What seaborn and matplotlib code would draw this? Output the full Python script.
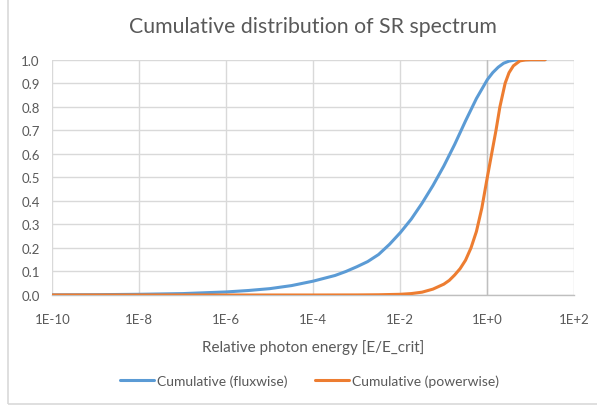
import numpy as np
import pandas as pd
import matplotlib
matplotlib.use("Agg")
import matplotlib.pyplot as plt
from matplotlib.patches import Rectangle
from matplotlib.ticker import FixedLocator, FuncFormatter, NullLocator
import seaborn as sns

# Cumulative fraction of synchrotron radiation vs relative photon energy E/E_crit
flux_log_e = [-10, -9, -8, -7, -6, -5.5, -5, -4.5, -4, -3.5, -3.25, -3, -2.75, -2.5,
              -2.25, -2, -1.75, -1.5, -1.25, -1, -0.75, -0.5, -0.25, 0, 0.125, 0.25,
              0.375, 0.5, 0.625, 0.75, 1.0, 1.33]
flux_cum = [0.0006, 0.0013, 0.003, 0.006, 0.013, 0.019, 0.027, 0.04, 0.059, 0.083, 0.1,
            0.12, 0.142, 0.172, 0.215, 0.265, 0.322, 0.39, 0.465, 0.548, 0.64, 0.74, 0.835,
            0.915, 0.945, 0.968, 0.985, 0.994, 0.998, 1.0, 1.0, 1.0]

power_log_e = [-10, -8, -6, -4, -3, -2.5, -2, -1.75, -1.5, -1.25, -1, -0.875, -0.75,
               -0.625, -0.5, -0.375, -0.25, -0.125, 0, 0.1, 0.2, 0.29, 0.41, 0.5, 0.6,
               0.75, 0.875, 1.0, 1.33]
power_cum = [0.0, 0.0, 0.0, 0.0, 0.0003, 0.001, 0.003, 0.006, 0.012, 0.025, 0.046, 0.062,
             0.085, 0.112, 0.148, 0.2, 0.27, 0.37, 0.5, 0.6, 0.7, 0.8, 0.9, 0.945, 0.974,
             0.995, 0.999, 1.0, 1.0]

series_names = ["Cumulative (fluxwise)", "Cumulative (powerwise)"]
x_ticks = [1e-10, 1e-8, 1e-6, 1e-4, 1e-2, 1e0, 1e2]
y_ticks = [0.0, 0.1, 0.2, 0.3, 0.4, 0.5, 0.6, 0.7, 0.8, 0.9, 1.0]

df = pd.concat([
    pd.DataFrame({"E": 10.0 ** np.array(flux_log_e), "F": flux_cum, "series": series_names[0]}),
    pd.DataFrame({"E": 10.0 ** np.array(power_log_e), "F": power_cum, "series": series_names[1]}),
], ignore_index=True)

sns.set_theme(style="white")
plt.rcParams["font.family"] = ["Lato", "DejaVu Sans"]

W, H = 597, 410
fig = plt.figure(figsize=(W / 100, H / 100), dpi=100)
ax = fig.add_axes([52.3 / W, (H - 296) / H, (574.3 - 52.3) / W, (296 - 60.7) / H])

text_col = "#595959"
grid_col = "#D9D9D9"
axis_col = "#BFBFBF"

sns.lineplot(data=df, x="E", y="F", hue="series", hue_order=series_names,
             palette=["#5B9BD5", "#ED7D31"], linewidth=2.2, ax=ax, legend=False,
             sort=False, estimator=None, zorder=3)

ax.set_xscale("log")
ax.set_xlim(1e-10, 1e2)
ax.set_ylim(0, 1.0)
ax.xaxis.set_major_locator(FixedLocator(x_ticks))
ax.xaxis.set_minor_locator(NullLocator())
ax.yaxis.set_major_locator(FixedLocator(y_ticks))


def sci_label(v, pos):
    e = int(round(np.log10(v)))
    return f"1E{'+' if e >= 0 else '-'}{abs(e)}"


ax.xaxis.set_major_formatter(FuncFormatter(sci_label))
ax.yaxis.set_major_formatter(FuncFormatter(lambda v, p: f"{v:.1f}"))

ax.grid(True, color=grid_col, linewidth=1.0, zorder=0)
for side in ["top", "left", "right"]:
    ax.spines[side].set_visible(False)
ax.spines["bottom"].set_color(axis_col)
ax.spines["bottom"].set_linewidth(1.0)
ax.axvline(1.0, color=axis_col, linewidth=1.0, zorder=1)

ax.tick_params(axis="both", length=0, labelsize=9.5, labelcolor=text_col)
ax.tick_params(axis="x", pad=13)
ax.tick_params(axis="y", pad=9)
ax.set_xlabel("Relative photon energy [E/E_crit]", fontsize=11, color=text_col, labelpad=10)
ax.set_ylabel("")

fig.text(0.5 * (52.3 + 574.3) / W, 1 - 27 / H, "Cumulative distribution of SR spectrum",
         ha="center", va="center", fontsize=15.3, color=text_col)

handles = [plt.Line2D([], [], color="#5B9BD5", linewidth=2.2),
           plt.Line2D([], [], color="#ED7D31", linewidth=2.2)]
fig.legend(handles, series_names, loc="center", bbox_to_anchor=(0.519, 1 - 382 / H),
           ncol=2, frameon=False, fontsize=10, labelcolor=text_col, handlelength=2.4,
           handletextpad=0.25, columnspacing=2.0)

fig.patches.append(Rectangle((8 / W, 5 / H), (W + 5 - 8) / W, (H - 5) / H,
                             transform=fig.transFigure, fill=False,
                             edgecolor=grid_col, linewidth=1.2))

fig.savefig("out.png", dpi=100, facecolor="white")
